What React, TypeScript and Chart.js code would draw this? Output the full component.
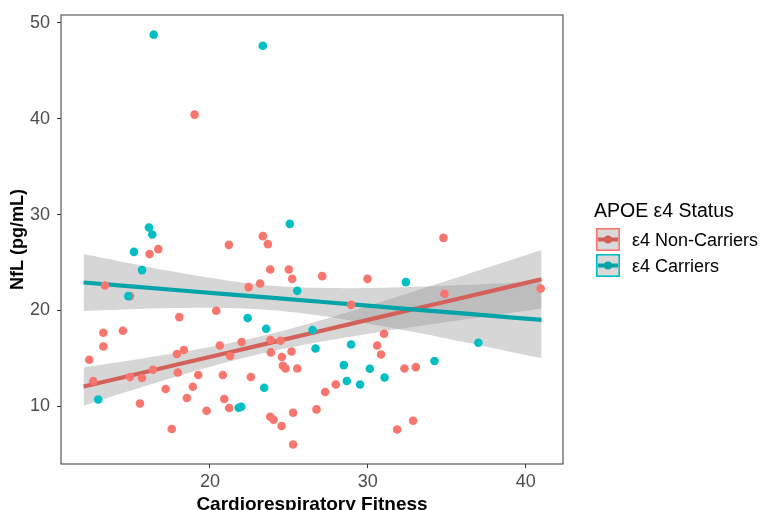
import React, { useEffect, useRef } from "react";
import { Chart, registerables } from "chart.js";

Chart.register(...registerables);

// ---------- data ----------
const nonCarrierX = [13.35, 14.94, 16.18, 16.73, 21.2, 23.35, 23.67, 23.82, 25.0, 25.21, 27.11, 22.45, 23.18, 18.06, 20.4, 13.25, 14.49, 13.25, 12.36, 17.91, 18.35, 20.63, 21.28, 22.01, 23.84, 24.47, 23.86, 24.56, 25.17, 24.62, 24.79, 25.53, 12.61, 14.94, 15.7, 16.39, 17.97, 19.26, 20.82, 22.59, 17.2, 18.92, 18.54, 20.91, 21.22, 15.57, 19.79, 23.82, 24.03, 24.54, 25.27, 26.75, 17.58, 25.27, 29.98, 34.79, 34.85, 40.95, 28.94, 31.03, 30.59, 30.84, 32.32, 33.04, 27.97, 27.3, 31.86, 32.87, 19.03];
const nonCarrierY = [22.6, 21.5, 25.88, 26.4, 26.84, 27.75, 26.92, 24.27, 24.27, 23.3, 23.58, 22.44, 22.81, 19.31, 19.97, 17.68, 17.89, 16.25, 14.86, 15.46, 15.88, 16.35, 15.25, 16.71, 16.92, 16.84, 15.63, 15.15, 15.73, 14.24, 13.96, 13.96, 12.65, 13.06, 12.96, 13.82, 13.54, 13.27, 13.27, 13.06, 11.81, 12.05, 10.88, 10.77, 9.83, 10.31, 9.55, 8.93, 8.61, 7.96, 9.34, 9.69, 7.65, 6.04, 23.3, 27.57, 21.74, 22.29, 20.59, 17.57, 16.35, 15.42, 13.96, 14.1, 12.29, 11.5, 7.6, 8.51, 40.42];

const carrierX = [16.14, 16.35, 15.19, 15.7, 14.83, 25.06, 25.53, 22.39, 23.56, 26.5, 26.69, 23.44, 21.82, 21.98, 12.93, 32.41, 28.94, 28.48, 28.67, 29.51, 30.13, 31.06, 34.22, 37.0, 16.44, 23.35];
const carrierY = [28.65, 27.92, 26.11, 24.21, 21.5, 29.03, 22.05, 19.21, 18.09, 17.96, 16.04, 11.95, 9.86, 9.97, 10.73, 22.96, 16.46, 14.31, 12.65, 12.29, 13.93, 13.02, 14.73, 16.64, 48.75, 47.6];

// fitted lines and confidence bands
const fitX = [12, 15, 18, 21, 24, 27, 30, 33, 36, 39, 41];
const nonCarrierFit = [12.07, 13.23, 14.39, 15.54, 16.7, 17.86, 19.02, 20.18, 21.33, 22.49, 23.26];
const nonCarrierHigh = [14.07, 14.81, 15.61, 16.51, 17.63, 18.98, 20.48, 22.04, 23.62, 25.23, 26.31];
const nonCarrierLow = [10.07, 11.65, 13.17, 14.57, 15.77, 16.74, 17.56, 18.32, 19.04, 19.75, 20.21];
const carrierFit = [22.92, 22.52, 22.11, 21.71, 21.31, 20.91, 20.5, 20.1, 19.7, 19.29, 19.03];
const carrierHigh = [25.89, 24.9, 23.96, 23.16, 22.59, 22.36, 22.35, 22.48, 22.67, 22.87, 23.03];
const carrierLow = [19.95, 20.14, 20.26, 20.26, 20.03, 19.46, 18.65, 17.72, 16.73, 15.71, 15.03];

const xTicks = [20, 30, 40];
const yTicks = [10, 20, 30, 40, 50];

const legendTitle = "APOE ε4 Status";
const legendLabels = ["ε4 Non-Carriers", "ε4 Carriers"];
const xTitle = "Cardiorespiratory Fitness";
const yTitle = "NfL (pg/mL)";

// ---------- styles ----------
const RED = "#F8766D";
const CYAN = "#00BFC4";
const RED_LINE = "#D4605A";
const CYAN_LINE = "#04A3A7";
const BAND = "rgba(153,153,153,0.4)";
const FONT = "'Liberation Sans', Arial, Helvetica, sans-serif";

const pts = (xs: number[], ys: number[]) => xs.map((x, i) => ({ x, y: ys[i] }));

export default function App() {
  const ref = useRef<HTMLCanvasElement | null>(null);

  useEffect(() => {
    const canvas = ref.current;
    if (!canvas) return;

    const framePlugin = {
      id: "frame",
      afterDatasetsDraw(chart: any) {
        const { ctx, chartArea: a } = chart;
        ctx.save();
        ctx.strokeStyle = "#4a4a4a";
        ctx.lineWidth = 1.1;
        ctx.strokeRect(a.left, a.top, a.right - a.left, a.bottom - a.top);
        ctx.restore();
      },
    };

    const legendPlugin = {
      id: "customLegend",
      afterDraw(chart: any) {
        const ctx = chart.ctx;
        ctx.save();
        ctx.fillStyle = "#000";
        ctx.textBaseline = "alphabetic";
        ctx.textAlign = "left";
        ctx.font = `19.5px ${FONT}`;
        ctx.fillText(legendTitle, 594, 217);
        const keys = [
          { top: 228, border: RED, line: RED_LINE, label: legendLabels[0] },
          { top: 254, border: CYAN, line: CYAN_LINE, label: legendLabels[1] },
        ];
        keys.forEach((k) => {
          const l = 596, w = 24, h = 23;
          ctx.fillStyle = "#d9d9d9";
          ctx.fillRect(l, k.top, w, h);
          ctx.strokeStyle = k.border;
          ctx.lineWidth = 1.6;
          ctx.strokeRect(l + 0.8, k.top + 0.8, w - 1.6, h - 1.6);
          const cy = k.top + h / 2;
          ctx.strokeStyle = k.line;
          ctx.lineWidth = 4;
          ctx.beginPath();
          ctx.moveTo(l + 2, cy);
          ctx.lineTo(l + w - 2, cy);
          ctx.stroke();
          ctx.fillStyle = k.line;
          ctx.beginPath();
          ctx.arc(l + w / 2, cy, 4, 0, Math.PI * 2);
          ctx.fill();
          ctx.fillStyle = "#000";
          ctx.font = `18px ${FONT}`;
          ctx.fillText(k.label, 632, cy + 6.5);
        });
        ctx.restore();
      },
    };

    const lineDs = (data: number[], color: string, order: number) => ({
      type: "line" as const,
      data: pts(fitX, data),
      borderColor: color,
      borderWidth: 4.2,
      pointRadius: 0,
      fill: false,
      tension: 0,
      order,
    });
    const bandDs = (data: number[], fill: any, order: number) => ({
      type: "line" as const,
      data: pts(fitX, data),
      borderWidth: 0,
      borderColor: "rgba(0,0,0,0)",
      backgroundColor: BAND,
      pointRadius: 0,
      fill,
      tension: 0.4,
      order,
    });

    const chart = new Chart(canvas, {
      type: "scatter",
      data: {
        datasets: [
          bandDs(nonCarrierHigh, "+1", 5),
          bandDs(nonCarrierLow, false, 5),
          bandDs(carrierHigh, "+1", 4),
          bandDs(carrierLow, false, 4),
          lineDs(nonCarrierFit, RED_LINE, 3),
          lineDs(carrierFit, CYAN_LINE, 2),
          {
            type: "scatter" as const,
            data: pts(nonCarrierX, nonCarrierY),
            backgroundColor: RED,
            borderWidth: 0,
            pointRadius: 4.3,
            order: 1,
          },
          {
            type: "scatter" as const,
            data: pts(carrierX, carrierY),
            backgroundColor: CYAN,
            borderWidth: 0,
            pointRadius: 4.3,
            order: 0,
          },
        ] as any,
      },
      plugins: [framePlugin, legendPlugin],
      options: {
        animation: false,
        responsive: false,
        layout: { padding: { left: 0, top: 15, right: 197, bottom: 0 } },
        plugins: { legend: { display: false }, tooltip: { enabled: false } },
        scales: {
          x: {
            type: "linear",
            min: 10.57,
            max: 42.36,
            afterBuildTicks: (s: any) => {
              s.ticks = xTicks.map((v) => ({ value: v }));
            },
            afterFit: (s: any) => {
              s.height = 46;
              s.paddingLeft = 0;
              s.paddingRight = 0;
            },
            grid: { drawOnChartArea: false, drawTicks: true, tickLength: 4, color: "#333", lineWidth: 1 },
            border: { display: false },
            ticks: { color: "#4D4D4D", font: { size: 18, family: FONT }, padding: 3, maxRotation: 0 },
            title: {
              display: true,
              text: xTitle,
              color: "#000",
              font: { size: 19, weight: "bold", family: FONT, lineHeight: 0.5 },
              padding: { top: 0, bottom: 0 },
            },
          },
          y: {
            type: "linear",
            min: 4.0,
            max: 50.8,
            afterBuildTicks: (s: any) => {
              s.ticks = yTicks.map((v) => ({ value: v }));
            },
            afterFit: (s: any) => {
              s.width = 61;
              s.paddingTop = 0;
              s.paddingBottom = 0;
            },
            grid: { drawOnChartArea: false, drawTicks: true, tickLength: 4, color: "#333", lineWidth: 1 },
            border: { display: false },
            ticks: { color: "#4D4D4D", font: { size: 18, family: FONT }, padding: 7 },
            title: {
              display: true,
              text: yTitle,
              color: "#000",
              font: { size: 18, weight: "bold", family: FONT, lineHeight: 1.2 },
              padding: { top: 7, bottom: 0 },
            },
          },
        },
      } as any,
    });

    return () => chart.destroy();
  }, []);

  return (
    <div style={{ position: "absolute", left: 0, top: 0, width: 760, height: 510, background: "#fff" }}>
      <canvas ref={ref} width={760} height={510} style={{ display: "block" }} />
    </div>
  );
}
